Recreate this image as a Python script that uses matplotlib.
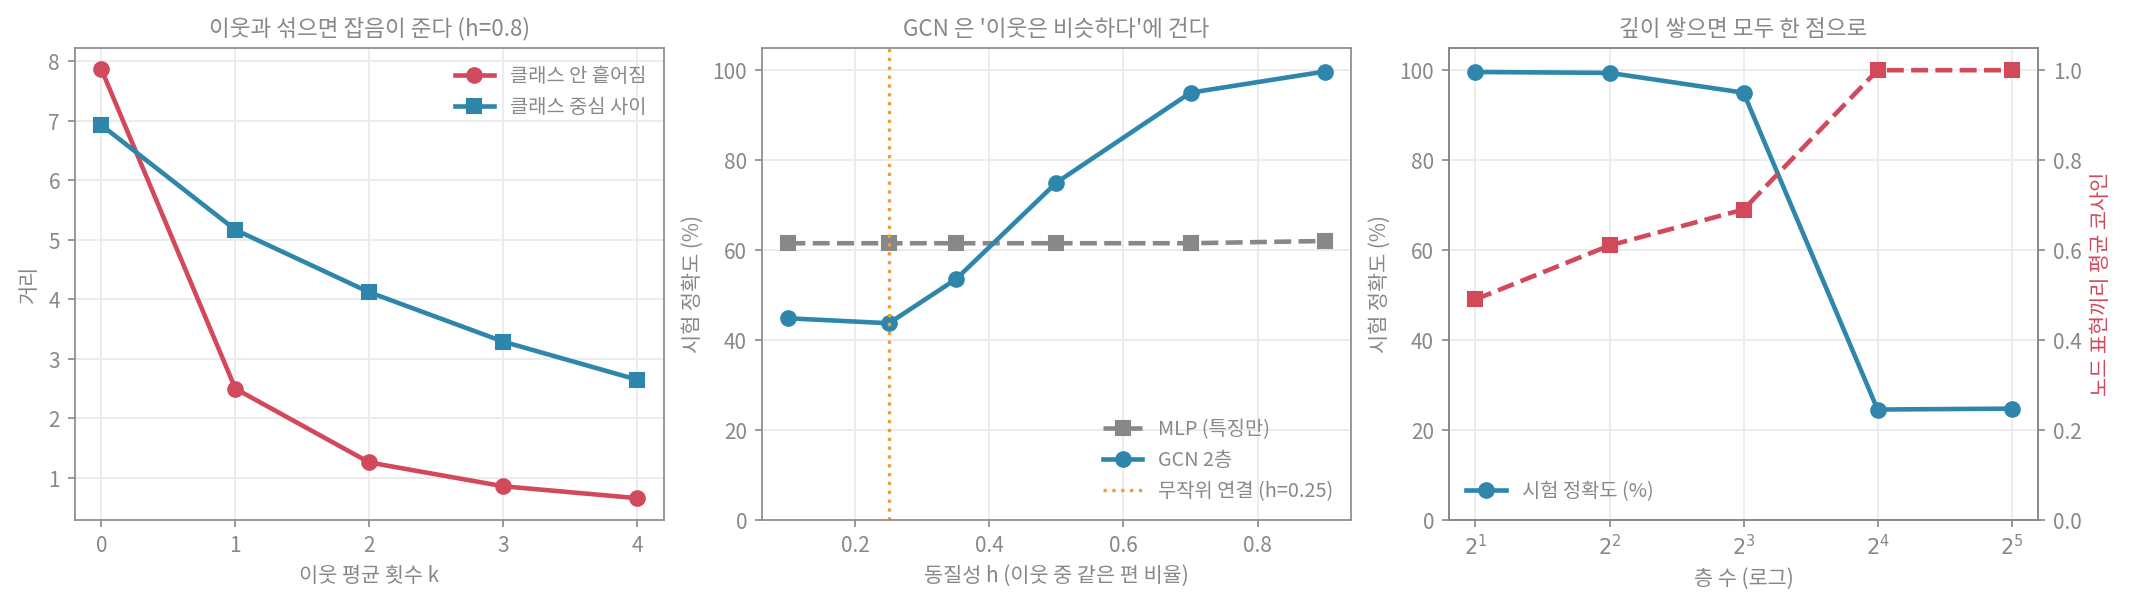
import numpy as np
import matplotlib.pyplot as plt
from matplotlib.ticker import MultipleLocator

plt.rcParams['font.family'] = ['Noto Sans CJK KR', 'DejaVu Sans']
plt.rcParams['axes.unicode_minus'] = False

GREY = '#888888'
RED = '#d1495b'
BLUE = '#2e86ab'
ORANGE = '#e9a23b'

# panel 1: neighbour averaging
k_steps = [0, 1, 2, 3, 4]
within_spread = [7.87, 2.50, 1.26, 0.86, 0.66]
between_centers = [6.93, 5.17, 4.12, 3.29, 2.65]

# panel 2: homophily sweep
homophily = [0.1, 0.25, 0.35, 0.5, 0.7, 0.9]
mlp_acc = [61.5, 61.5, 61.5, 61.5, 61.5, 62.0]
gcn_acc = [44.8, 43.7, 53.5, 75.0, 95.0, 99.7]
random_h = 0.25

# panel 3: depth
layers = [2, 4, 8, 16, 32]
depth_acc = [99.6, 99.4, 95.0, 24.5, 24.7]
mean_cos = [0.49, 0.61, 0.69, 1.0, 1.0]

plt.rcParams.update({
    'font.size': 10,
    'axes.edgecolor': GREY,
    'axes.labelcolor': GREY,
    'axes.titlecolor': GREY,
    'xtick.color': GREY,
    'ytick.color': GREY,
    'xtick.labelcolor': GREY,
    'ytick.labelcolor': GREY,
    'text.color': GREY,
    'legend.labelcolor': GREY,
})

fig, axes = plt.subplots(1, 3, figsize=(14.2, 4.07), dpi=150)
fig.subplots_adjust(left=0.035, right=0.957, bottom=0.148, top=0.921, wspace=0.165)

lw = 2.2
ms = 7

def style(ax):
    ax.grid(True, color='#ebebeb', lw=0.9)
    ax.set_axisbelow(True)

# --- panel 1
ax = axes[0]
style(ax)
ax.plot(k_steps, within_spread, '-o', color=RED, lw=lw, ms=ms, label='클래스 안 흩어짐')
ax.plot(k_steps, between_centers, '-s', color=BLUE, lw=lw, ms=ms, label='클래스 중심 사이')
ax.set_title('이웃과 섞으면 잡음이 준다 (h=0.8)', fontsize=10.8)
ax.set_xlabel('이웃 평균 횟수 k')
ax.set_ylabel('거리')
ax.set_xticks(k_steps)
ax.legend(loc='upper right', frameon=False, fontsize=9.5)

# --- panel 2
ax = axes[1]
style(ax)
ax.plot(homophily, mlp_acc, '--s', color=GREY, lw=lw, ms=ms, label='MLP (특징만)')
ax.plot(homophily, gcn_acc, '-o', color=BLUE, lw=lw, ms=ms, label='GCN 2층')
ax.axvline(random_h, color=ORANGE, ls=':', lw=1.6, label='무작위 연결 (h=0.25)')
ax.set_ylim(0, 105)
ax.xaxis.set_major_locator(MultipleLocator(0.2))
ax.set_title("GCN 은 '이웃은 비슷하다'에 건다", fontsize=10.8)
ax.set_xlabel('동질성 h (이웃 중 같은 편 비율)')
ax.set_ylabel('시험 정확도 (%)')
ax.legend(loc='lower right', frameon=False, fontsize=9.5)

# --- panel 3
ax = axes[2]
style(ax)
ax.plot(layers, depth_acc, '-o', color=BLUE, lw=lw, ms=ms, label='시험 정확도 (%)')
ax.set_xscale('log', base=2)
ax.set_xticks(layers)
ax.set_xticklabels([f'$2^{{{int(np.log2(l))}}}$' for l in layers])
ax.minorticks_off()
ax.set_ylim(0, 105)
ax.set_title('깊이 쌓으면 모두 한 점으로', fontsize=10.8)
ax.set_xlabel('층 수 (로그)')
ax.set_ylabel('시험 정확도 (%)')
ax.legend(loc='lower left', frameon=False, fontsize=9.5)

ax2 = ax.twinx()
ax2.plot(layers, mean_cos, '--s', color=RED, lw=lw, ms=ms)
ax2.set_ylim(0, 1.05)
ax2.set_ylabel('노드 표현끼리 평균 코사인', color=RED)

fig.savefig('out.png', dpi=150)
